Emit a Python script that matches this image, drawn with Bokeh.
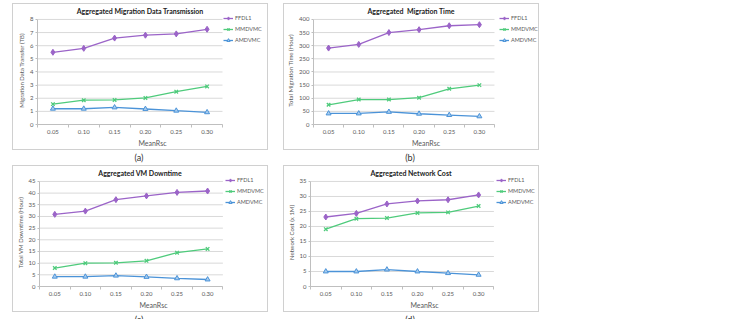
from bokeh.plotting import figure
from bokeh.models import Range1d, FixedTicker, NumeralTickFormatter, Legend, LegendItem, Div
from bokeh.layouts import row, column
from bokeh.embed import file_html
from bokeh.resources import INLINE

mean_rsc = [0.05, 0.10, 0.15, 0.20, 0.25, 0.30]
series_names = ["FFDL1", "MMDVMC", "AMDVMC"]

data_tx_ffdl1 = [5.5, 5.8, 6.58, 6.8, 6.9, 7.25]
data_tx_mmdvmc = [1.55, 1.85, 1.87, 2.02, 2.5, 2.9]
data_tx_amdvmc = [1.2, 1.2, 1.3, 1.18, 1.05, 0.93]

mig_time_ffdl1 = [291, 305, 350, 361, 376, 380]
mig_time_mmdvmc = [75, 95, 95, 102, 136, 150]
mig_time_amdvmc = [42, 42, 48, 41, 36, 31]

downtime_ffdl1 = [30.9, 32.3, 37.2, 38.8, 40.3, 40.9]
downtime_mmdvmc = [7.9, 10.0, 10.15, 11.0, 14.5, 16.1]
downtime_amdvmc = [4.2, 4.2, 4.65, 4.1, 3.5, 3.0]

net_cost_ffdl1 = [23.15, 24.35, 27.5, 28.5, 28.9, 30.5]
net_cost_mmdvmc = [19.1, 22.6, 22.8, 24.5, 24.7, 26.8]
net_cost_amdvmc = [5.0, 5.0, 5.65, 5.0, 4.45, 3.9]

FONT = "Lato"
COLORS = ["#9b64c8", "#4fcb7c", "#4b93d8"]
MARKERS = ["diamond", "x", "triangle"]
GRAY_TXT = "#595959"

W = 254
TITLE_H = 11
FIG_H = 134
LEFT, RIGHT, TOP, BOTTOM = 24, 0, 1, 23
DATA_W = 185
DATA_H = 107


def make_chart(title, ylabel, ymax, ystep, series, caption):
    step = mean_rsc[1] - mean_rsc[0]
    bounds = [mean_rsc[0] - step / 2] + [(mean_rsc[i] + mean_rsc[i + 1]) / 2 for i in range(len(mean_rsc) - 1)] + [mean_rsc[-1] + step / 2]
    frame_w = W - LEFT - RIGHT
    frame_h = FIG_H - TOP - BOTTOM
    x_end = bounds[0] + (bounds[-1] - bounds[0]) * frame_w / DATA_W
    y_end = ymax * frame_h / DATA_H

    p = figure(width=W, height=FIG_H, output_backend="svg", toolbar_location=None,
               x_range=Range1d(bounds[0], x_end), y_range=Range1d(0, y_end),
               min_border_left=LEFT, min_border_right=RIGHT, min_border_top=TOP, min_border_bottom=BOTTOM)
    p.outline_line_color = None
    p.background_fill_color = "white"
    p.border_fill_color = "white"

    p.xaxis.ticker = FixedTicker(ticks=mean_rsc, minor_ticks=bounds)
    p.xaxis.formatter = NumeralTickFormatter(format="0.00")
    p.xaxis.bounds = (bounds[0], bounds[-1])
    p.xaxis.major_tick_out = 0
    p.xaxis.major_tick_in = 0
    p.xaxis.minor_tick_out = 3
    p.xaxis.minor_tick_in = 0
    p.xaxis.axis_label = "MeanRsc"

    yt = [i * ystep for i in range(int(round(ymax / ystep)) + 1)]
    p.yaxis.ticker = FixedTicker(ticks=yt, minor_ticks=[])
    p.yaxis.bounds = (0, ymax)
    p.yaxis.major_tick_out = 2
    p.yaxis.major_tick_in = 0
    p.yaxis.minor_tick_out = 0
    p.yaxis.minor_tick_in = 0
    p.yaxis.axis_label = ylabel

    for ax in (p.xaxis, p.yaxis):
        ax.axis_line_color = "#bfbfbf"
        ax.major_tick_line_color = "#bfbfbf"
        ax.minor_tick_line_color = "#bfbfbf"
        ax.major_label_text_font = FONT
        ax.major_label_text_font_size = "6px"
        ax.major_label_text_color = GRAY_TXT
        ax.axis_label_text_font = FONT
        ax.axis_label_text_font_style = "normal"
        ax.axis_label_text_color = GRAY_TXT
        ax.major_label_standoff = 2
        ax.axis_label_standoff = 2
    p.xaxis.axis_label_text_font_size = "7px"
    p.yaxis.axis_label_text_font_size = "6px"

    p.xgrid.grid_line_color = None
    p.ygrid.grid_line_color = None
    # horizontal gridlines limited to the category span
    p.segment(x0=[bounds[0]] * len(yt), x1=[bounds[-1]] * len(yt), y0=yt, y1=yt,
              line_color="#d9d9d9", line_width=1, level="underlay")

    items = []
    for name, vals, col, mk in zip(series_names, series, COLORS, MARKERS):
        r1 = p.line(mean_rsc, vals, line_color=col, line_width=1.3)
        if mk == "triangle":
            r2 = p.scatter(mean_rsc, vals, marker=mk, size=5, line_color=col, fill_color="#a9cdef", line_width=1)
        elif mk == "x":
            r2 = p.scatter(mean_rsc, vals, marker=mk, size=5, line_color=col, line_width=1.3)
        else:
            r2 = p.scatter(mean_rsc, vals, marker=mk, size=6, line_color=col, fill_color=col)
        items.append(LegendItem(label=name, renderers=[r1, r2]))

    legend_h = 3 * 8 + 2 * 3
    top_gap = frame_h - DATA_H
    legend = Legend(items=items, location=(DATA_W + 1, DATA_H + 4 - legend_h - 1))
    legend.label_text_font = FONT
    legend.label_text_font_size = "5.5px"
    legend.label_text_color = GRAY_TXT
    legend.glyph_width = 10
    legend.glyph_height = 8
    legend.label_height = 8
    legend.label_standoff = 2
    legend.spacing = 3
    legend.padding = 0
    legend.margin = 0
    legend.border_line_color = None
    legend.background_fill_alpha = 0
    p.add_layout(legend)

    tdiv = Div(text=title, width=W, height=TITLE_H, margin=0,
               styles={"text-align": "center", "font-family": FONT, "font-size": "7px",
                       "font-weight": "bold", "color": "#222222", "line-height": "15px",
                       "white-space": "pre"})
    boxed = column(tdiv, p, spacing=0,
                   styles={"border": "1px solid #d0d0d0", "background": "white"})
    cap = Div(text=caption, width=W, height=15, margin=0,
              styles={"text-align": "center", "font-family": FONT, "font-size": "9px",
                      "color": "#333333", "line-height": "15px"})
    return column(boxed, cap, spacing=0)


ca = make_chart("Aggregated Migration Data Transmission", "Migration Data Transfer (TB)", 8, 1,
                [data_tx_ffdl1, data_tx_mmdvmc, data_tx_amdvmc], "(a)")
cb = make_chart("Aggregated  Migration Time", "Total Migration Time (Hour)", 400, 50,
                [mig_time_ffdl1, mig_time_mmdvmc, mig_time_amdvmc], "(b)")
cc = make_chart("Aggregated VM Downtime", "Total VM Downtime (Hour)", 45, 5,
                [downtime_ffdl1, downtime_mmdvmc, downtime_amdvmc], "(c)")
cd = make_chart("Aggregated Network Cost", "Network Cost (x 1M)", 35, 5,
                [net_cost_ffdl1, net_cost_mmdvmc, net_cost_amdvmc], "(d)")

layout = column(row(ca, cb, spacing=15), row(cc, cd, spacing=15), spacing=0)
layout.margin = (3, 0, 0, 12)

open("out.html", "w").write(file_html(layout, INLINE))
